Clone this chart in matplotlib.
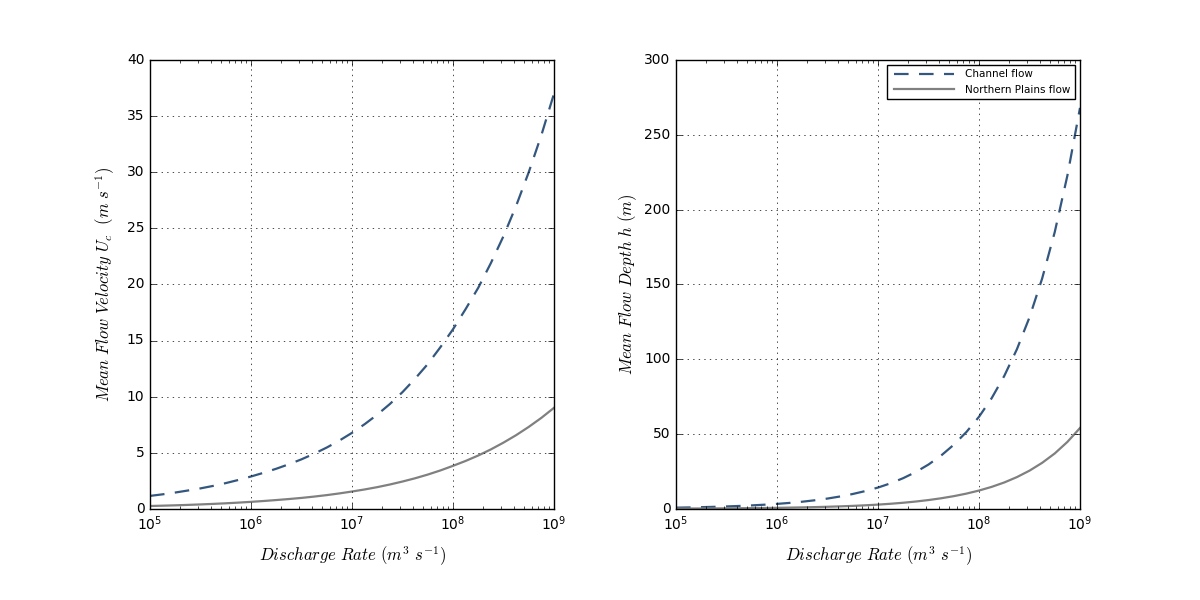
import matplotlib
matplotlib.use("Agg")
import matplotlib.pyplot as plt

plt.style.use("classic")
plt.rcParams["mathtext.fontset"] = "cm"
plt.rcParams["font.size"] = 10
plt.rcParams["figure.facecolor"] = "white"

# log10 of discharge rate (eighth decades)
log_q = [5.0, 5.125, 5.25, 5.375, 5.5, 5.625, 5.75, 5.875,
         6.0, 6.125, 6.25, 6.375, 6.5, 6.625, 6.75, 6.875,
         7.0, 7.125, 7.25, 7.375, 7.5, 7.625, 7.75, 7.875,
         8.0, 8.125, 8.25, 8.375, 8.5, 8.625, 8.75, 8.875, 9.0]

velocity_channel = [1.15, 1.29, 1.45, 1.63, 1.82, 2.04, 2.29, 2.57,
                    2.88, 3.21, 3.57, 3.97, 4.41, 4.91, 5.46, 6.08,
                    6.77, 7.54, 8.39, 9.34, 10.4, 11.6, 12.9, 14.4,
                    16.0, 17.8, 19.7, 21.9, 24.3, 27.0, 30.0, 33.3, 37.0]
velocity_plains = [0.25, 0.278, 0.31, 0.348, 0.39, 0.437, 0.49, 0.551,
                   0.62, 0.695, 0.78, 0.87, 0.97, 1.088, 1.22, 1.371,
                   1.54, 1.724, 1.93, 2.166, 2.43, 2.722, 3.05, 3.418,
                   3.83, 4.265, 4.75, 5.294, 5.9, 6.563, 7.3, 8.106, 9.0]

depth_channel = [0.76, 0.91, 1.09, 1.31, 1.58, 1.90, 2.28, 2.74,
                 3.28, 3.94, 4.74, 5.70, 6.85, 8.24, 9.9, 11.86,
                 14.2, 17.06, 20.5, 24.63, 29.6, 35.59, 42.8, 51.3,
                 61.5, 73.9, 88.8, 106.6, 128, 153.9, 185, 222.7, 268]
depth_plains = [0.15, 0.182, 0.22, 0.261, 0.31, 0.373, 0.45, 0.541,
                0.65, 0.782, 0.94, 1.131, 1.36, 1.629, 1.95, 2.337,
                2.8, 3.368, 4.05, 4.868, 5.85, 7.031, 8.45, 10.15,
                12.2, 14.65, 17.6, 21.18, 25.5, 30.72, 37.0, 44.7, 54.0]

labels = ["Channel flow", "Northern Plains flow"]
channel_color = "#34577f"
plains_color = "#808080"

q = [10 ** v for v in log_q]

fig, (ax1, ax2) = plt.subplots(1, 2, figsize=(12, 6), dpi=100)
fig.subplots_adjust(left=0.125, right=0.9, bottom=0.152, top=0.9, wspace=0.302)

for ax, ch, pl in [(ax1, velocity_channel, velocity_plains),
                   (ax2, depth_channel, depth_plains)]:
    ax.plot(q, ch, linestyle="--", dashes=(10.5, 7.5), color=channel_color, lw=1.6, label=labels[0])
    ax.plot(q, pl, linestyle="-", color=plains_color, lw=1.6, label=labels[1])
    ax.set_xscale("log")
    ax.set_xlim(1e5, 1e9)
    ax.grid(True)
    ax.set_xlabel(r"$Discharge\ Rate\ (m^3\ s^{-1})$", fontsize=12, labelpad=8.5)

ax1.set_ylim(0, 40)
ax2.set_ylim(0, 300)
ax1.set_ylabel(r"$Mean\ Flow\ Velocity\ U_c\ \ (m\ s^{-1})$", fontsize=12, labelpad=7)
ax2.set_ylabel(r"$Mean\ Flow\ Depth\ h\ (m)$", fontsize=12, labelpad=4)
ax2.legend(loc="upper right", fontsize=7.5, handlelength=6.3)

fig.savefig("out.png", dpi=100)
